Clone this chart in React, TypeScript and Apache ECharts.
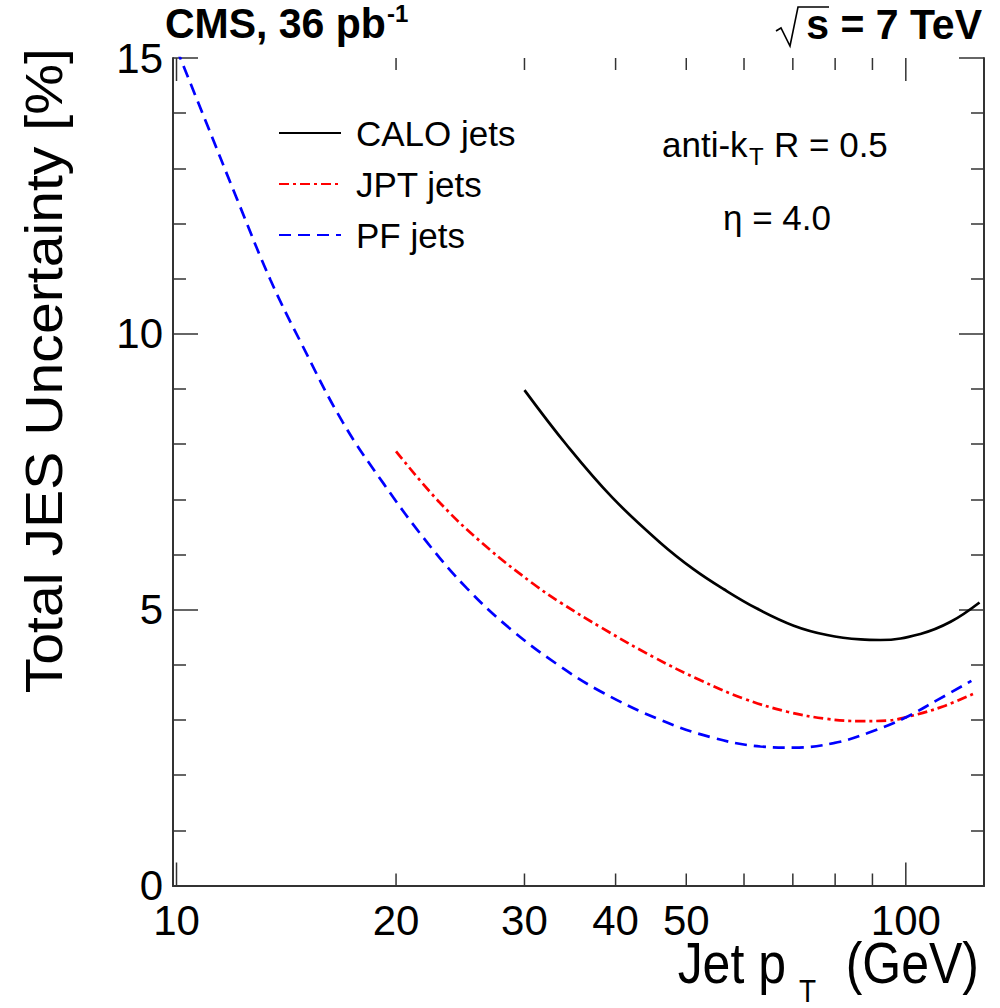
import React, { useEffect, useRef } from "react";
import * as echarts from "echarts";

// ---- data ----
const caloPt = [30, 34.3, 39.6, 46.1, 51.2, 56.3, 62.5, 70.2, 78.0, 86.7, 92.3, 104.7, 115.2, 126.2];
const caloUnc = [8.98, 7.98, 7.03, 6.21, 5.73, 5.37, 5.02, 4.71, 4.54, 4.46, 4.45, 4.56, 4.78, 5.13];

const jptPt = [20, 23.0, 26.66, 30.9, 33.6, 38.3, 45.1, 52.3, 59.9, 68.8, 78.0, 86.7, 94.3, 101.5, 112.7, 125];
const jptUnc = [7.87, 6.93, 6.13, 5.46, 5.13, 4.67, 4.14, 3.72, 3.39, 3.15, 3.02, 2.98, 2.99, 3.07, 3.25, 3.5];

const pfPt = [10, 10.9, 12.1, 13.45, 14.8, 16.9, 19.24, 22.06, 25.0, 28.7, 33.6, 38.5, 46.1, 54.0, 63.2, 70.2, 79.6, 88.5, 99.4, 110.4, 123];
const pfUnc = [15.17, 13.94, 12.45, 10.98, 9.85, 8.4, 7.28, 6.22, 5.39, 4.65, 3.97, 3.49, 3.0, 2.69, 2.52, 2.5, 2.58, 2.76, 3.03, 3.36, 3.71];

const seriesNames = ["CALO jets", "JPT jets", "PF jets"];
const xTickValues = [10, 20, 30, 40, 50, 60, 70, 80, 90, 100];
const xMajorTicks = [10, 100];
const xLabelValues = [10, 20, 30, 40, 50, 100];
const xMin = 9.89;
const xMax = 128;
const yMin = 0;
const yMax = 15;
const yInterval = 5;

const FONT = "Liberation Sans, Arial, Helvetica, sans-serif";

const zip = (a: number[], b: number[]) => a.map((v, i) => [v, b[i]]);

function txt(text: string, x: number, y: number, size: number, extra: any = {}) {
  const align = extra.align || "left";
  const valign = extra.valign || "middle";
  return {
    type: "text",
    x,
    y,
    rotation: extra.rotation || 0,
    scaleX: extra.scaleX || 1,
    scaleY: extra.scaleY || 1,
    style: {
      text,
      fill: "#000",
      fontSize: size,
      fontFamily: FONT,
      fontWeight: extra.bold ? "bold" : "normal",
      align,
      textAlign: align,
      verticalAlign: valign,
      textVerticalAlign: valign,
    },
  };
}

export default function App() {
  const ref = useRef<HTMLDivElement>(null);
  useEffect(() => {
    if (!ref.current) return;
    const chart = echarts.init(ref.current, undefined, { renderer: "svg" });
    const axisColor = "#333";
    const yAxisBase = {
      type: "value",
      min: yMin,
      max: yMax,
      interval: yInterval,
      axisLine: { show: true, lineStyle: { color: axisColor, width: 2 } },
      axisTick: { show: true, inside: true, length: 25, lineStyle: { color: axisColor, width: 1.5 } },
      minorTick: { show: true, splitNumber: 5, length: 13, lineStyle: { color: axisColor, width: 1.5 } },
      splitLine: { show: false },
      minorSplitLine: { show: false },
    };
    const xAxisBase = {
      type: "log",
      logBase: 10,
      min: xMin,
      max: xMax,
      axisLine: { show: true, lineStyle: { color: axisColor, width: 2 } },
      axisTick: { show: false },
      axisLabel: { show: false },
      splitLine: { show: false },
      minorTick: { show: false },
    };
    const option: any = {
      animation: false,
      backgroundColor: "#fff",
      textStyle: { fontFamily: FONT },
      grid: { left: 173, right: 16, top: 58, bottom: 122.5, containLabel: false },
      xAxis: [
        { ...xAxisBase, position: "bottom" },
        { ...xAxisBase, position: "top" },
      ],
      yAxis: [
        {
          ...yAxisBase,
          position: "left",
          axisLabel: { show: true, fontSize: 42, color: "#000", margin: 10, fontFamily: FONT },
        },
        { ...yAxisBase, position: "right", axisLabel: { show: false } },
      ],
      legend: {
        orient: "vertical",
        left: 278,
        top: 115.5,
        padding: 0,
        itemWidth: 62,
        itemHeight: 14,
        itemGap: 16,
        data: seriesNames,
        itemStyle: { color: "rgba(0,0,0,0)", borderWidth: 0 },
        textStyle: { fontSize: 35, lineHeight: 35, color: "#000", fontFamily: FONT, padding: [0, 0, 0, 10] },
      },
      series: [
        {
          name: seriesNames[0],
          type: "line",
          data: zip(caloPt, caloUnc),
          symbol: "none",
          smooth: 0.4,
          lineStyle: { color: "#000", width: 2.7, type: "solid" },
          itemStyle: { color: "#000" },
        },
        {
          name: seriesNames[1],
          type: "line",
          data: zip(jptPt, jptUnc),
          symbol: "none",
          smooth: 0.4,
          lineStyle: { color: "#ff0000", width: 2.7, type: [10, 4, 3, 4] },
          itemStyle: { color: "#ff0000" },
        },
        {
          name: seriesNames[2],
          type: "line",
          data: zip(pfPt, pfUnc),
          symbol: "none",
          smooth: 0.4,
          clip: true,
          lineStyle: { color: "#0000ff", width: 2.7, type: [12, 7] },
          itemStyle: { color: "#0000ff" },
        },
        {
          name: "xticks",
          type: "custom",
          clip: false,
          silent: true,
          data: xTickValues.map((v) => [v, 0]),
          renderItem: (params: any, api: any) => {
            const v = api.value(0);
            const major = xMajorTicks.indexOf(v) >= 0;
            const len = major ? 23 : 12;
            const b = api.coord([v, yMin]);
            const t = api.coord([v, yMax]);
            const children: any[] = [
              { type: "line", shape: { x1: b[0], y1: b[1], x2: b[0], y2: b[1] - len }, style: { stroke: axisColor, lineWidth: 1.5 } },
              { type: "line", shape: { x1: t[0], y1: t[1], x2: t[0], y2: t[1] + len }, style: { stroke: axisColor, lineWidth: 1.5 } },
            ];
            if (xLabelValues.indexOf(v) >= 0) {
              children.push({
                type: "text",
                x: b[0],
                y: b[1] + 35,
                style: {
                  text: String(v),
                  fill: "#000",
                  fontSize: 42,
                  fontFamily: FONT,
                  align: "center",
                  textAlign: "center",
                  verticalAlign: "middle",
                  textVerticalAlign: "middle",
                },
              });
            }
            return { type: "group", children };
          },
        },
      ],
      graphic: [
        // y-axis title
        txt("Total JES Uncertainty [%]", 44, 48, 52, { rotation: Math.PI / 2, align: "right", scaleX: 1.1 }),
        // x-axis title
        txt("Jet p", 786, 963, 50, { align: "right", scaleY: 1.13 }),
        txt("T", 799, 991, 28, { align: "left", scaleY: 1.13 }),
        txt("(GeV)", 979, 963, 50, { align: "right", scaleY: 1.13 }),
        // CMS label
        txt("CMS, 36 pb", 165, 23, 41, { bold: true, scaleY: 1.05 }),
        txt("-1", 387, 13, 24, { bold: true }),
        // sqrt(s)
        {
          type: "polyline",
          shape: { points: [[776, 31], [781, 28], [790, 46], [798, 7], [829, 7]] },
          style: { stroke: "#000", lineWidth: 1.6, fill: null },
        },
        txt("s = 7 TeV", 982, 24, 41, { bold: true, align: "right", scaleY: 1.05 }),
        // annotations
        txt("anti-k", 662, 144, 35, {}),
        txt("T", 749, 156, 24, {}),
        txt("R = 0.5", 774, 144, 35, {}),
        txt("η = 4.0", 777, 217, 35, { align: "center" }),
      ],
    };
    chart.setOption(option);
    return () => chart.dispose();
  }, []);
  return (
    <div
      ref={ref}
      style={{ position: "absolute", left: 0, top: 0, width: 1000, height: 1008, background: "#fff" }}
    />
  );
}
